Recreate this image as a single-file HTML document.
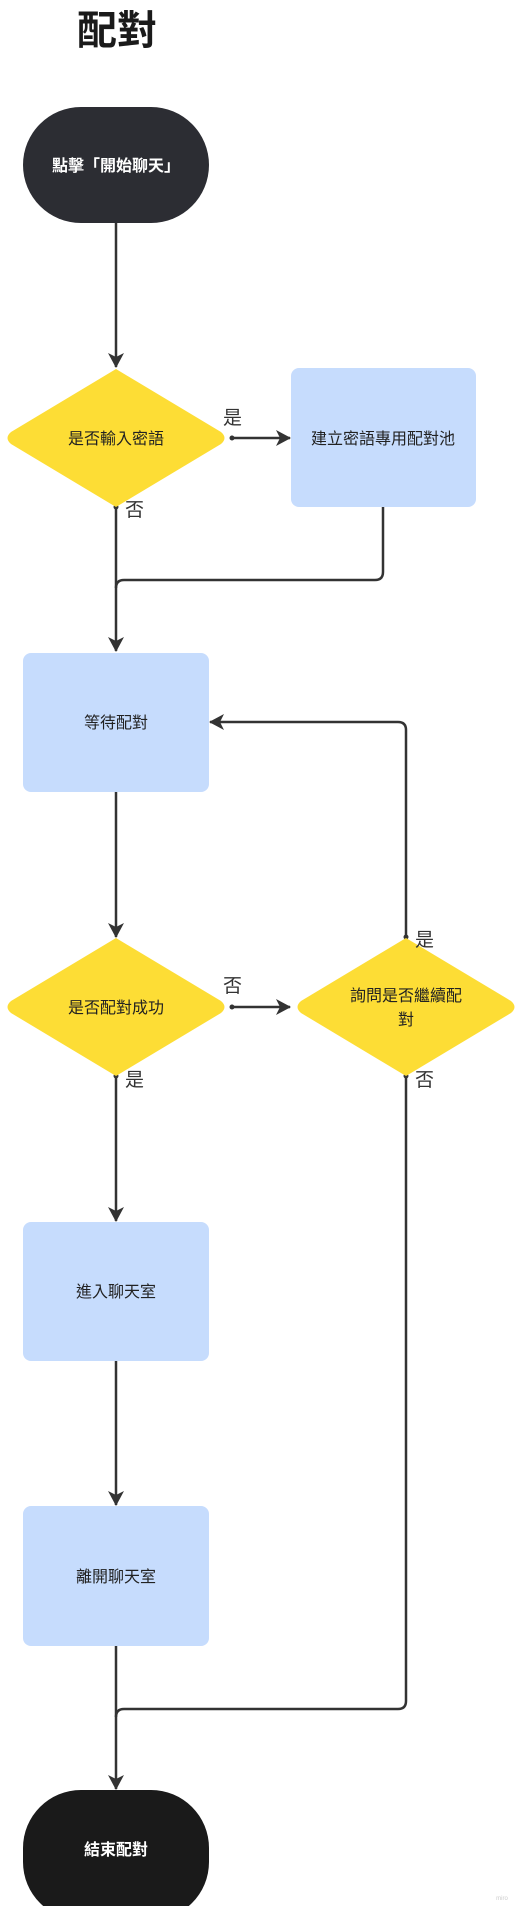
<!DOCTYPE html>
<html><head><meta charset="utf-8"><style>
body{margin:0;background:#fff}
svg{display:block}
text{font-family:"Liberation Sans","Noto Sans CJK TC",sans-serif}
</style></head><body>
<svg width="524" height="1906" viewBox="0 0 524 1906" xmlns="http://www.w3.org/2000/svg">
<defs>
<marker id="b" viewBox="0 0 16 16" markerWidth="16" markerHeight="16" refX="14" refY="8" orient="auto" markerUnits="userSpaceOnUse"><path d="M0,0 L15,8 L0,16 L4,8 Z" fill="#333"/></marker></defs>
<text x="117" y="44" font-size="40" font-weight="bold" fill="#1a1a1a" text-anchor="middle">配對</text>
<rect x="23" y="107" width="186" height="116" rx="58" fill="#2c2d33"/>
<text x="116" y="171" font-size="16" font-weight="bold" fill="#fff" text-anchor="middle">點擊「開始聊天」</text>
<g stroke="#333" stroke-width="2.5" fill="none">
<path d="M116 223 V367" marker-end="url(#b)"/>
<path d="M232 438 H290" marker-end="url(#b)"/>
<path d="M116 507 V651" marker-end="url(#b)"/>
<path d="M383 507 V572 Q383 580 375 580 H124 Q116 580 116 588"/>
<path d="M116 792 V937" marker-end="url(#b)"/>
<path d="M232 1007 H290" marker-end="url(#b)"/>
<path d="M406 936 V730 Q406 722 398 722 H210" marker-end="url(#b)"/>
<path d="M116 1076 V1221" marker-end="url(#b)"/>
<path d="M116 1361 V1505" marker-end="url(#b)"/>
<path d="M116 1646 V1789" marker-end="url(#b)"/>
<path d="M406 1076 V1701 Q406 1709 398 1709 H124 Q116 1709 116 1717"/>
</g>
<g fill="#333"><circle cx="232" cy="438" r="2.5"/><circle cx="116" cy="507" r="2.5"/><circle cx="232" cy="1007" r="2.5"/><circle cx="406" cy="937" r="2.5"/><circle cx="116" cy="1076" r="2.5"/><circle cx="406" cy="1076" r="2.5"/></g>
<path d="M116 369 L221 432 Q228 438 221 444 L116 507 L11 444 Q4 438 11 432 Z" fill="#fddd35"/>
<text x="116" y="444" font-size="16" fill="#222" text-anchor="middle">是否輸入密語</text>
<rect x="291" y="368" width="185" height="139" rx="8" fill="#c6dcfd"/>
<text x="383" y="444" font-size="16" fill="#222" text-anchor="middle">建立密語專用配對池</text>
<text x="223" y="424" font-size="19" fill="#333">是</text>
<text x="125" y="516" font-size="19" fill="#333">否</text>
<rect x="23" y="653" width="186" height="139" rx="8" fill="#c6dcfd"/>
<text x="116" y="728" font-size="16" fill="#222" text-anchor="middle">等待配對</text>
<path d="M116 938 L221 1001 Q228 1007 221 1013 L116 1076 L11 1013 Q4 1007 11 1001 Z" fill="#fddd35"/>
<text x="116" y="1013" font-size="16" fill="#222" text-anchor="middle">是否配對成功</text>
<path d="M406 938 L511 1001 Q518 1007 511 1013 L406 1076 L301 1013 Q294 1007 301 1001 Z" fill="#fddd35"/>
<text x="406" y="1001" font-size="16" fill="#222" text-anchor="middle">詢問是否繼續配</text>
<text x="406" y="1025" font-size="16" fill="#222" text-anchor="middle">對</text>
<text x="223" y="992" font-size="19" fill="#333">否</text>
<text x="415" y="946" font-size="19" fill="#333">是</text>
<text x="125" y="1086" font-size="19" fill="#333">是</text>
<text x="415" y="1086" font-size="19" fill="#333">否</text>
<rect x="23" y="1222" width="186" height="139" rx="8" fill="#c6dcfd"/>
<text x="116" y="1297" font-size="16" fill="#222" text-anchor="middle">進入聊天室</text>
<rect x="23" y="1506" width="186" height="140" rx="8" fill="#c6dcfd"/>
<text x="116" y="1582" font-size="16" fill="#222" text-anchor="middle">離開聊天室</text>
<rect x="23" y="1790" width="186" height="130" rx="58" fill="#1a1a1a"/>
<text x="116" y="1855" font-size="16" font-weight="bold" fill="#fff" text-anchor="middle">結束配對</text>
<text x="502" y="1900" font-size="6" fill="#ccc" text-anchor="middle">miro</text>
</svg>
</body></html>
